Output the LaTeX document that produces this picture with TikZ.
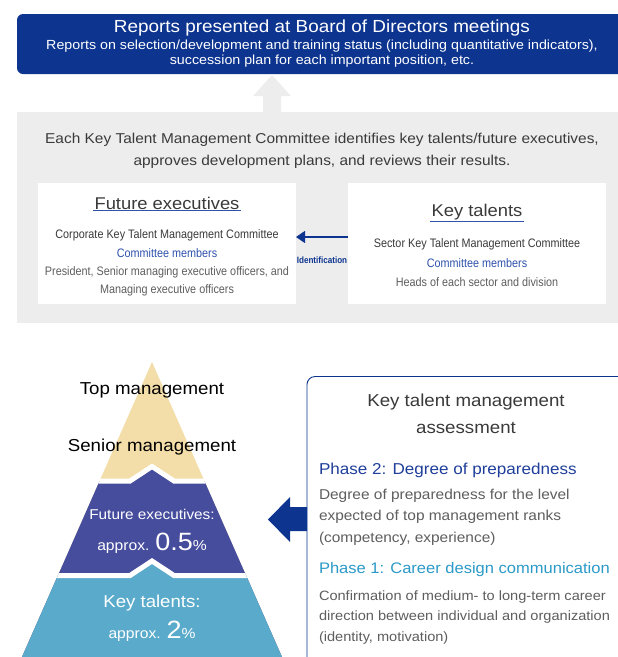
\documentclass[tikz,border=0pt]{standalone}
\usepackage{fontspec}
\setmainfont[FakeStretch=1.08]{Liberation Sans}
\newfontfamily\condfont[FakeStretch=0.88]{Liberation Sans}
\usetikzlibrary{calc,arrows.meta}
\definecolor{navy}{HTML}{0D3590}
\definecolor{greybg}{HTML}{EDEDED}
\definecolor{tanc}{HTML}{F3DDA8}
\definecolor{purp}{HTML}{474D9D}
\definecolor{lblue}{HTML}{5AAACB}
\definecolor{txtdark}{HTML}{3A3A3A}
\definecolor{txtgrey}{HTML}{5E5E5E}
\definecolor{membl}{HTML}{2F52AD}
\definecolor{ph2}{HTML}{1F3F9A}
\definecolor{ph1}{HTML}{2B9AC8}
\newcommand\fsz[2]{\fontsize{#1}{#2}\selectfont}
\tikzset{
  txt/.style={inner sep=0pt, outer sep=0pt},
  panel/.style={anchor=north west, inner sep=0pt, outer sep=0pt},
}
\begin{document}
\begin{tikzpicture}[x=1pt,y=-1pt]
\useasboundingbox (0,0) rectangle (618,657);
\clip (0,0) rectangle (618,657);

% top board box
\node[panel, fill=navy, rounded corners=6pt, minimum width=640pt, minimum height=60pt] (board) at (17,14) {};
\node[txt, text=white, font=\fsz{17.5}{19}] (boardtitle) at (322,28) {Reports presented at Board of Directors meetings};
\node[txt, text=white, font=\fsz{13.2}{15}, align=center] (boardsub) at (322,54)
  {Reports on selection/development and training status (including quantitative indicators),\\succession plan for each important position, etc.};

% grey committee panel
\node[panel, fill=greybg, minimum width=640pt, minimum height=211pt] (grey) at (17,112) {};
\fill[greybg] (263,113) -- (263,96) -- (253,96) -- (272,75) -- (291,96) -- (281,96) -- (281,113) -- cycle;
\node[txt, text=txtdark, font=\fsz{14.3}{22}, align=center] (greytext) at (322,151)
  {Each Key Talent Management Committee identifies key talents/future executives,\\approves development plans, and reviews their results.};

% left white box
\node[panel, fill=white, minimum width=258pt, minimum height=121pt] (lbox) at (38,183) {};
\node[txt, text=txtdark, font=\fsz{17}{20}, inner sep=1.5pt] (ltitle) at (167,203) {Future executives};
\draw[membl, line width=0.8pt] (ltitle.south west) -- (ltitle.south east);
\node[txt, font=\condfont\fsz{12.3}{18.3}, align=center] (ltext) at (167,263)
  {\textcolor{txtdark}{Corporate Key Talent Management Committee}\\
   \textcolor{membl}{Committee members}\\
   \textcolor{txtgrey}{President, Senior managing executive officers, and}\\
   \textcolor{txtgrey}{Managing executive officers}};

% right white box
\node[panel, fill=white, minimum width=258pt, minimum height=121pt] (rbox) at (348,183) {};
\node[txt, text=txtdark, font=\fsz{17}{20}, inner sep=1.5pt] (rtitle) at (477,212) {Key talents};
\draw[membl, line width=0.8pt] (rtitle.south west) -- (rtitle.south east);
\node[txt, font=\condfont\fsz{12.3}{19.5}, align=center] (rtext) at (477,263)
  {\textcolor{txtdark}{Sector Key Talent Management Committee}\\
   \textcolor{membl}{Committee members}\\
   \textcolor{txtgrey}{Heads of each sector and division}};

% identification arrow
\draw[navy, line width=1.3pt, -{Triangle[length=9pt,width=12pt]}]
  ($(rbox.west)+(0,-6.5)$) -- ($(lbox.east)+(0,-6.5)$);
\node[txt, text=navy, font=\condfont\bfseries\fsz{9.2}{11}] (ident) at (322,260) {Identification};

% pyramid
\coordinate (apex) at (152,362);
\coordinate (bl) at (22,657);
\coordinate (br) at (282,657);
\begin{scope}
  \clip (apex) -- (bl) -- (br) -- cycle;
  \fill[tanc] (0,350) rectangle (300,660);
  \fill[purp] (0,481) -- (130,481) -- (152,466.5) -- (174,481) -- (300,481) -- (300,660) -- (0,660) -- cycle;
  \fill[lblue] (0,575.5) -- (130,575.5) -- (152,561) -- (174,575.5) -- (300,575.5) -- (300,660) -- (0,660) -- cycle;
  \draw[white, line width=5pt] (0,481) -- (130,481) -- (152,466.5) -- (174,481) -- (300,481);
  \draw[white, line width=5pt] (0,575.5) -- (130,575.5) -- (152,561) -- (174,575.5) -- (300,575.5);
\end{scope}
\node[txt, text=black, font=\fsz{17.3}{18}] (topm) at (152,390) {Top management};
\node[txt, text=black, font=\fsz{17.3}{18}] (senm) at (152,447) {Senior management};
\node[txt, text=white, font=\fsz{14.2}{16}] (futex) at (152,514) {Future executives:};
\node[txt, text=white, anchor=base] (futpct) at (152,550) {\fsz{14.5}{16}approx. \fsz{25}{26}0.5\fsz{14.5}{16}\%};
\node[txt, text=white, font=\fsz{17.2}{18}] (keyt) at (152,603) {Key talents:};
\node[txt, text=white, anchor=base] (keypct) at (152,638) {\fsz{14.5}{16}approx. \fsz{25}{26}2\fsz{14.5}{16}\%};

% assessment box
\node[panel, fill=white, draw=navy, line width=0.9pt, rounded corners=8pt, minimum width=400pt, minimum height=320pt] (asmt) at (307,376.5) {};
\fill[navy] (307,507) -- (290,507) -- (290,497) -- (268,519.5) -- (290,542) -- (290,531) -- (307,531) -- cycle;
\node[txt, text=txtdark, font=\fsz{17.3}{27}, align=center] (asmttitle) at (466,414) {Key talent management\\assessment};
\node[txt, text=ph2, font=\fsz{15.8}{18}, anchor=west] (ph2t) at (319,470) {Phase 2: Degree of preparedness};
\node[txt, text=txtgrey, font=\fsz{14.3}{21.5}, align=left, anchor=north west] (ph2b) at (319,489)
  {Degree of preparedness for the level\\expected of top management ranks\\(competency, experience)};
\node[txt, text=ph1, font=\fsz{15.3}{18}, anchor=west] (ph1t) at (319,570) {Phase 1: Career design communication};
\node[txt, text=txtgrey, font=\fsz{13.5}{20.5}, align=left, anchor=north west] (ph1b) at (319,590.5)
  {Confirmation of medium- to long-term career\\direction between individual and organization\\(identity, motivation)};
\end{tikzpicture}
\end{document}
